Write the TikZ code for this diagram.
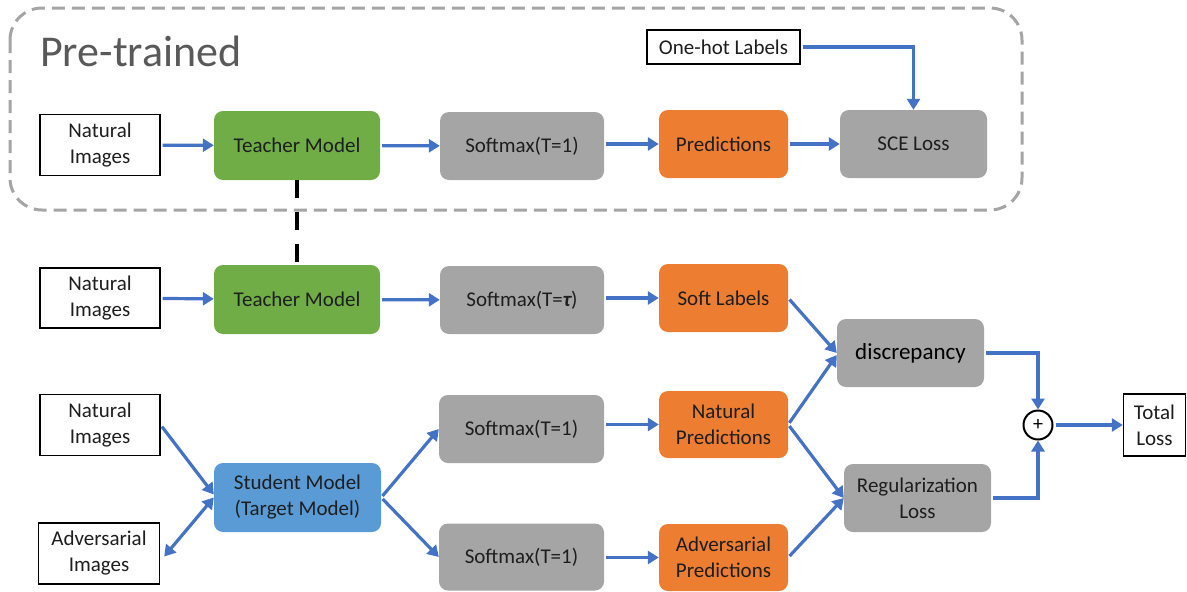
\documentclass[tikz,border=0pt]{standalone}
\usepackage{fontspec}
\setmainfont{Carlito}
\usetikzlibrary{arrows.meta,calc}
\definecolor{cgreen}{HTML}{70AD47}
\definecolor{cgray}{HTML}{A5A5A5}
\definecolor{corange}{HTML}{ED7D31}
\definecolor{cblue}{HTML}{5B9BD5}
\definecolor{arrowblue}{HTML}{4472C4}
\definecolor{txt}{HTML}{1E1E1E}
\definecolor{ptgray}{HTML}{595959}
\begin{document}
\begin{tikzpicture}[x=1pt,y=-1pt,
  base/.style={inner sep=0pt, align=center, text=txt, font=\fontsize{21}{26}\selectfont},
  wbox/.style={base, draw=black, line width=1.4pt, fill=white},
  rbox/.style={base, rounded corners=9pt, minimum height=68pt},
  greenbox/.style={rbox, fill=cgreen, minimum width=166pt, minimum height=69pt},
  graybox/.style={rbox, fill=cgray},
  orangebox/.style={rbox, fill=corange, minimum width=129pt},
  bluebox/.style={rbox, fill=cblue, minimum width=167pt, minimum height=69pt},
  flow/.style={draw=arrowblue, line width=3.2pt, -{Triangle[length=11pt,width=13pt]}, shorten <=2pt},
  both/.style={draw=arrowblue, line width=3.2pt, {Triangle[length=11pt,width=13pt]}-{Triangle[length=11pt,width=13pt]}}
]
\useasboundingbox (0,0) rectangle (1187,592);

% pre-trained frame
\draw[cgray, line width=3pt, dash pattern=on 13pt off 7pt, rounded corners=32pt] (10,8) rectangle (1022,210);
\node[anchor=base west, inner sep=0pt, text=ptgray, font=\fontsize{44}{44}\selectfont] (pt) at (40,66) {Pre-trained};

% row 1
\node[wbox, minimum width=120pt, minimum height=61pt] (nat1) at (100,145) {Natural\\Images};
\node[greenbox] (tea1) at (297,145.5) {Teacher Model};
\node[graybox, minimum width=164pt] (sm1) at (522,146) {Softmax(T=1)};
\node[orangebox] (pred1) at (723.5,144) {Predictions};
\node[graybox, minimum width=147pt] (sce) at (913.5,144) {SCE Loss};
\node[wbox, minimum width=153pt, minimum height=34pt] (onehot) at (723.5,47) {One-hot Labels};

% row 2
\node[wbox, minimum width=120pt, minimum height=60pt] (nat2) at (100,298) {Natural\\Images};
\node[greenbox] (tea2) at (297,299.5) {Teacher Model};
\node[graybox, minimum width=164pt] (sm2) at (522,300) {Softmax(T={\bfseries\itshape τ})};
\node[orangebox] (soft) at (723.5,298) {Soft Labels};

% row 3
\node[wbox, minimum width=120pt, minimum height=61pt] (nat3) at (100,425) {Natural\\Images};
\node[wbox, minimum width=121pt, minimum height=61pt] (adv) at (99,553.5) {Adversarial\\Images};
\node[bluebox] (stu) at (297.5,497.5) {Student Model\\(Target Model)};
\node[graybox, minimum width=165pt] (sm3) at (521.5,429) {Softmax(T=1)};
\node[graybox, minimum width=165pt, minimum height=67pt] (sm4) at (521.5,557) {Softmax(T=1)};
\node[orangebox, minimum height=67pt] (npred) at (723.5,424.5) {Natural\\Predictions};
\node[orangebox, minimum height=67pt] (apred) at (723.5,557.5) {Adversarial\\Predictions};
\node[graybox, minimum width=147pt, text=black, font=\fontsize{23}{28}\selectfont] (disc) at (910.5,353) {discrepancy};
\node[graybox, minimum width=147pt] (reg) at (917.5,498) {Regularization\\Loss};
\node[draw=black, line width=2pt, circle, minimum size=29pt, inner sep=0pt, font=\fontsize{20}{20}\selectfont] (plus) at (1038,425) {+};
\node[wbox, minimum width=62pt, minimum height=62pt] (total) at (1154.5,425) {Total\\Loss};

% connectors row 1
\draw[flow] (nat1) -- (tea1);
\draw[flow] (tea1) -- (sm1);
\draw[flow] (sm1.east |- pred1.west) -- (pred1.west);
\draw[flow] (pred1) -- (sce);
\draw[flow] (onehot.east) -| (sce.north);

% teacher link
\draw[black, line width=3.2pt, dash pattern=on 18pt off 14pt] (tea1.south) -- (tea2.north);

% row 2
\draw[flow] (nat2) -- (tea2);
\draw[flow] (tea2) -- (sm2);
\draw[flow] (sm2.east |- soft.west) -- (soft.west);
\draw[flow] (soft.east) -- (disc.west);

% row 3
\draw[flow] (nat3.east) -- ([yshift=3pt]stu.west);
\draw[both] ([xshift=4pt,yshift=-3pt]adv.east) -- (stu.west);
\draw[flow] (stu.east) -- (sm3.west);
\draw[flow] (stu.east) -- (sm4.west);
\draw[flow] (sm3.east |- npred.west) -- (npred.west);
\draw[flow] (sm4.east |- apred.west) -- (apred.west);
\draw[flow] (npred.east) -- ([yshift=-2pt]disc.west);
\draw[flow] (npred.east) -- (reg.west);
\draw[flow] (apred.east) -- (reg.west);
\draw[flow] (disc.east) -| (plus.north);
\draw[flow] (reg.east) -| (plus.south);
\draw[flow] (plus.east) -- (total.west);
\end{tikzpicture}
\end{document}
